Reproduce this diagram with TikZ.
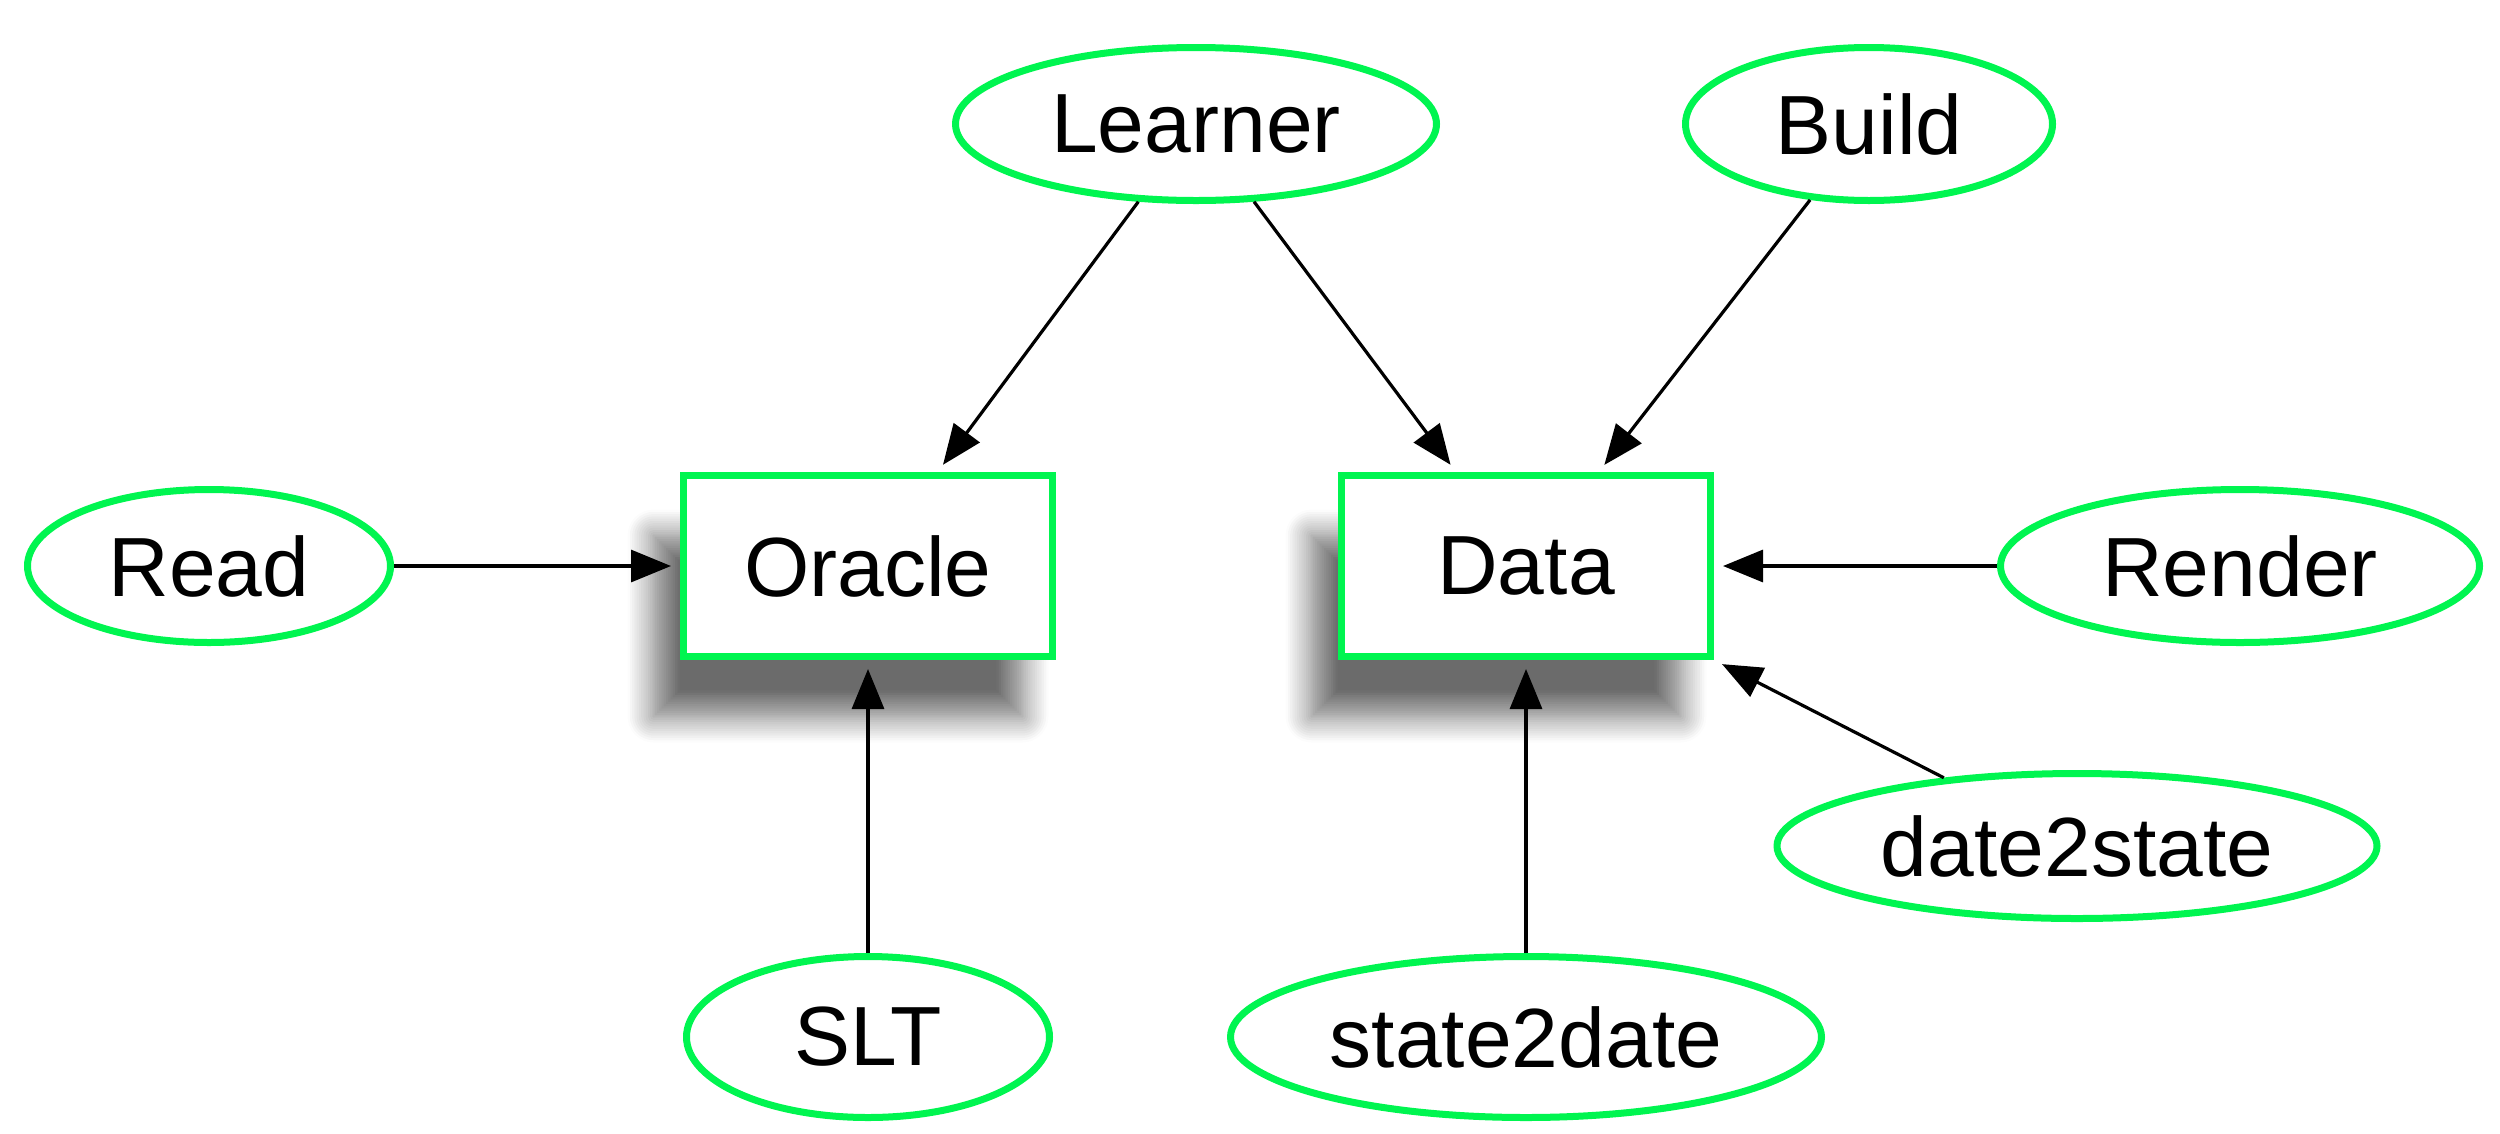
\documentclass[tikz,border=0pt]{standalone}
\usepackage{fontspec}
\setmainfont{Liberation Sans}
\usetikzlibrary{shapes.geometric,shadows.blur,arrows.meta}
\definecolor{ngreen}{RGB}{0,245,80}
\begin{document}
\begin{tikzpicture}[x=1pt,y=-1pt,
  lbl/.style={font=\fontsize{84}{100}\selectfont},
  ell/.style={lbl, ellipse, draw=ngreen, line width=7pt, fill=white, inner sep=0pt, minimum height=153pt},
  boxnode/.style={lbl, rectangle, draw=ngreen, line width=7pt, fill=white, minimum width=369pt, minimum height=181pt,
    blur shadow={shadow xshift=-30pt, shadow yshift=-60pt, shadow blur radius=26pt, shadow opacity=58, shadow blur steps=12}},
  arr/.style={line width=3.2pt, -{Triangle[length=40pt,width=32pt]}, shorten >=9pt}
]
\useasboundingbox (0,0) rectangle (2500,1133);
\node[boxnode] (oracle) at (868,566) {Oracle};
\node[boxnode] (data) at (1526,566) {Data};
\node[ell, minimum width=481pt] (learner) at (1196,124) {Learner};
\node[ell, minimum width=367pt] (build) at (1869,124) {Build};
\node[ell, minimum width=363pt] (read) at (209,566) {Read};
\node[ell, minimum width=479pt] (render) at (2240,566) {Render};
\node[ell, minimum width=600pt, minimum height=145pt] (d2s) at (2077,846) {date2state};
\node[ell, minimum width=363pt, minimum height=161pt] (slt) at (868,1037) {SLT};
\node[ell, minimum width=591pt, minimum height=161pt] (s2d) at (1526,1037) {state2date};
\draw[arr] (learner) -- (oracle);
\draw[arr] (learner) -- (data);
\draw[arr] (build) -- (data);
\draw[arr] (read) -- (oracle);
\draw[arr] (render) -- (data);
\draw[arr] (slt) -- (oracle);
\draw[arr] (s2d) -- (data);
\draw[arr] (d2s) -- (data.south east);
\end{tikzpicture}
\end{document}
